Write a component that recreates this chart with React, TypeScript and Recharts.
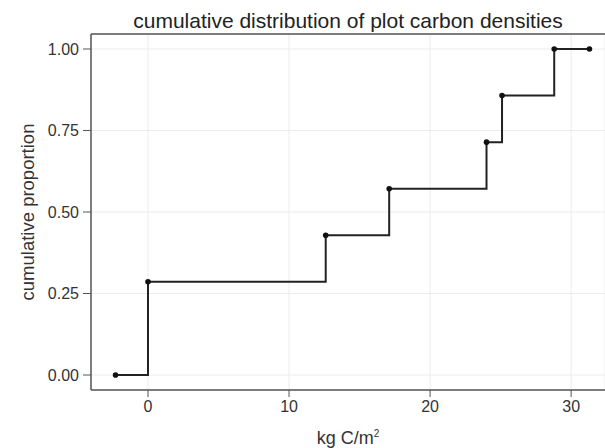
import React from 'react';
import { LineChart, Line, XAxis, YAxis, CartesianGrid, ReferenceLine, Label } from 'recharts';

const xValues = [-2.3, 0, 12.6, 17.1, 24.0, 25.1, 28.8, 31.3];
const cumProportion = [0, 0.2857, 0.4286, 0.5714, 0.7143, 0.8571, 1.0, 1.0];
const xTicks = [0, 10, 20, 30];
const yTicks = [0, 0.25, 0.5, 0.75, 1.0];

const data = xValues.map((x, i) => ({ x, y: cumProportion[i] }));

const X_DOMAIN: [number, number] = [-4.04, 32.4];
const Y_DOMAIN: [number, number] = [-0.046, 1.046];
const FONT = '"Liberation Sans", Arial, sans-serif';

const XLabel = (props: any) => {
  const vb = props.viewBox || {};
  const cx = vb.x + vb.width / 2;
  return (
    <text x={cx} y={444} textAnchor="middle" fontFamily={FONT} fontSize={18} fill="#333">
      kg C/m<tspan dy={-7} fontSize={10}>2</tspan>
    </text>
  );
};

export default function App() {
  return (
    <div style={{ position: 'absolute', left: 0, top: 0, width: 605, height: 448, background: '#fff', overflow: 'hidden' }}>
      <div style={{ position: 'absolute', left: 91, width: 514, top: 10, lineHeight: '22px', textAlign: 'center', fontFamily: FONT, fontSize: 21, color: '#222' }}>
        cumulative distribution of plot carbon densities
      </div>
      <LineChart width={605} height={448} data={data} margin={{ top: 34, right: 0, bottom: 0, left: 0 }}>
        <CartesianGrid stroke="#ececec" strokeWidth={1} vertical horizontal />
        <XAxis
          dataKey="x"
          type="number"
          domain={X_DOMAIN}
          ticks={xTicks}
          allowDataOverflow
          height={58}
          tickSize={7}
          tickMargin={4}
          axisLine={{ stroke: '#555', strokeWidth: 1.5 }}
          tickLine={{ stroke: '#555' }}
          tick={{ fontFamily: FONT, fontSize: 16, fill: '#333' }}
        >
          <Label content={<XLabel />} />
        </XAxis>
        <YAxis
          type="number"
          domain={Y_DOMAIN}
          ticks={yTicks}
          allowDataOverflow
          width={91}
          tickSize={8}
          tickMargin={4}
          tickFormatter={(v: number) => v.toFixed(2)}
          axisLine={{ stroke: '#555', strokeWidth: 1.5 }}
          tickLine={{ stroke: '#555' }}
          tick={{ fontFamily: FONT, fontSize: 16, fill: '#333' }}
        >
          <Label
            value="cumulative proportion"
            angle={-90}
            position="insideLeft"
            offset={27}
            style={{ textAnchor: 'middle', fontFamily: FONT, fontSize: 18.5, fill: '#333' }}
          />
        </YAxis>
        <ReferenceLine y={Y_DOMAIN[1]} stroke="#555" strokeWidth={1.5} />
        <Line
          type="stepAfter"
          dataKey="y"
          stroke="#222"
          strokeWidth={2}
          dot={{ r: 2.8, fill: '#111', stroke: '#111', strokeWidth: 0 }}
          activeDot={false}
          isAnimationActive={false}
        />
      </LineChart>
    </div>
  );
}
